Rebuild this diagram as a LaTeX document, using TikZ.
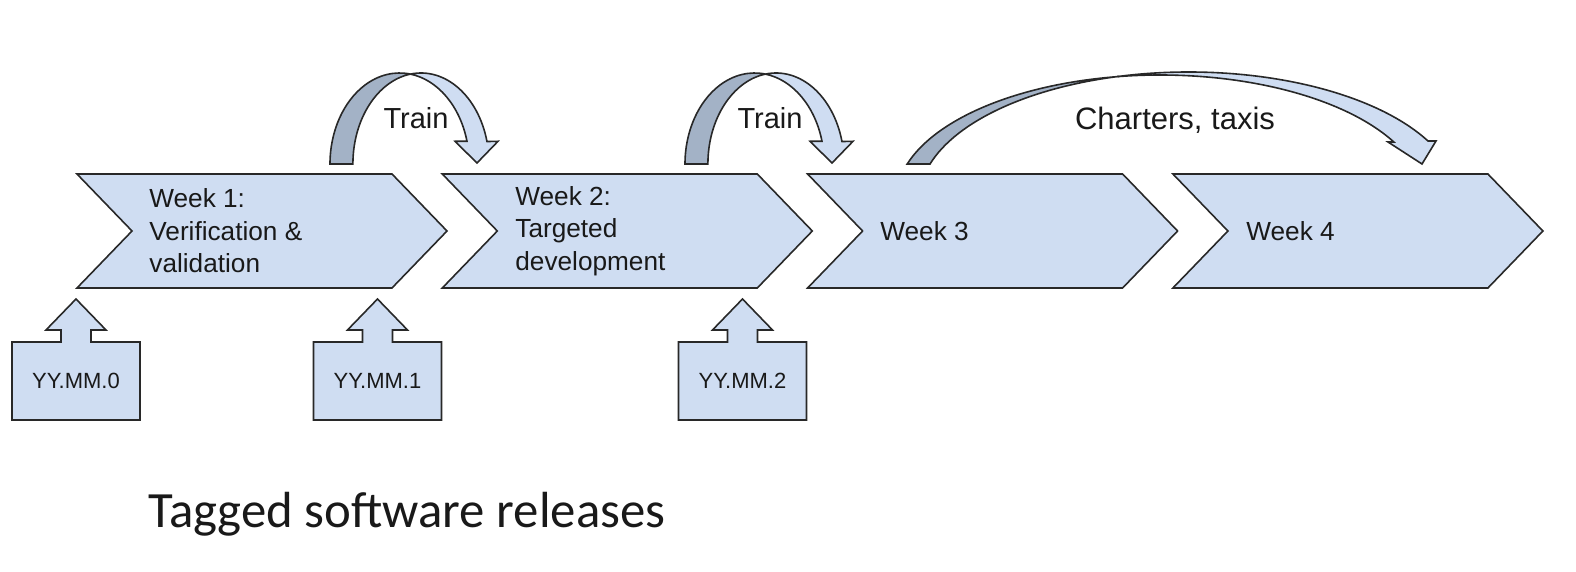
\documentclass[tikz,border=0pt]{standalone}
\usepackage{fontspec}
\setmainfont{Liberation Sans}
\newfontfamily\calib{Carlito}
\definecolor{chevfill}{RGB}{207,221,242}
\definecolor{darkband}{RGB}{163,178,198}
\definecolor{edge}{RGB}{40,40,40}
\definecolor{ink}{RGB}{25,25,25}
\begin{document}
\begin{tikzpicture}[x=0.5pt,y=-0.5pt,
  shapeline/.style={draw=edge, line width=0.8pt, fill=chevfill, line join=miter},
  darkpart/.style={draw=edge, line width=0.8pt, fill=darkband, line join=miter},
  weektext/.style={font=\fontsize{13.1}{16.25}\selectfont, text=ink, align=left, anchor=west, inner sep=0pt},
  labeltext/.style={font=\fontsize{14.5}{17}\selectfont, text=ink, anchor=base, inner sep=0pt},
  reltext/.style={font=\fontsize{11}{13}\selectfont, text=ink, inner sep=0pt}]
\useasboundingbox (0,0) rectangle (1576,572);

% chevrons
\foreach \i/\x in {1/77,2/442.3,3/807.6,4/1172.9}{
  \draw[shapeline] (\x,174) -- ++(315,0) -- ++(55,57) -- ++(-55,57) -- ++(-315,0) -- ++(55,-57) -- cycle;
  \coordinate (c\i) at (\x+185,231);
}
\node[weektext] (w1) at (149,231) {Week 1:\\Verification \&\\validation};
\node[weektext] (w2) at (515,231) {Week 2:\\Targeted\\development};
\node[weektext] (w3) at (880,231) {Week 3};
\node[weektext] (w4) at (1246,231) {Week 4};

% release boxes with up arrows
\foreach \i/\c in {0/76,1/377.5,2/742.5}{
  \draw[shapeline] (\c-64,420) -- (\c-64,342) -- (\c-15,342) -- (\c-15,330) -- (\c-30,330) -- (\c,299) -- (\c+30,330) -- (\c+15,330) -- (\c+15,342) -- (\c+64,342) -- (\c+64,420) -- cycle;
  \node[reltext] (r\i) at (\c,381) {YY.MM.\i};
}

% Train arrows
\foreach \s in {0,355}{
\begin{scope}[shift={(\s,0)}]
  \draw[shapeline] ([shift={(399.6,164)}]278.95:69.6 and 91) arc[start angle=278.95, end angle=345.5, x radius=69.6, y radius=91]
     -- (455,141.3) -- (477,163) -- (498,141.3)
     -- ([shift={(421,164)}]345.7:68.1 and 91) arc[start angle=345.7, end angle=261.06, x radius=68.1, y radius=91] -- cycle;
  \draw[darkpart] (330,164) arc[start angle=180, end angle=278.95, x radius=69.6, y radius=91]
     -- ([shift={(421,164)}]261.06:68.1 and 91) arc[start angle=261.06, end angle=180, x radius=68.1, y radius=91] -- cycle;
\end{scope}
}
\node[labeltext] (t1) at (416,129) {Train};
\node[labeltext] (t2) at (770,129) {Train};

% Charters arrow
\draw[shapeline] ([shift={(1160,200)}]260.85:264 and 125) arc[start angle=260.85, end angle=332.35, x radius=264, y radius=125]
   -- (1388,142) -- (1422,164) -- (1436,141)
   -- ([shift={(1188.74,200)}]332.55:269.6 and 128) arc[start angle=332.55, end angle=254.79, x radius=269.6, y radius=128] -- cycle;
\draw[darkpart] ([shift={(1160,200)}]196.74:264 and 125) arc[start angle=196.74, end angle=260.85, x radius=264, y radius=125]
   -- ([shift={(1188.74,200)}]254.79:269.6 and 128) arc[start angle=254.79, end angle=196.335, x radius=269.6, y radius=128] -- cycle;
\node[labeltext, font=\fontsize{15.5}{18}\selectfont] (ch) at (1175,130) {Charters, taxis};

\node[font=\calib\fontsize{25.4}{30}\selectfont, text=ink, anchor=base west, inner sep=0pt] (tag) at (148,528) {Tagged software releases};
\end{tikzpicture}
\end{document}
